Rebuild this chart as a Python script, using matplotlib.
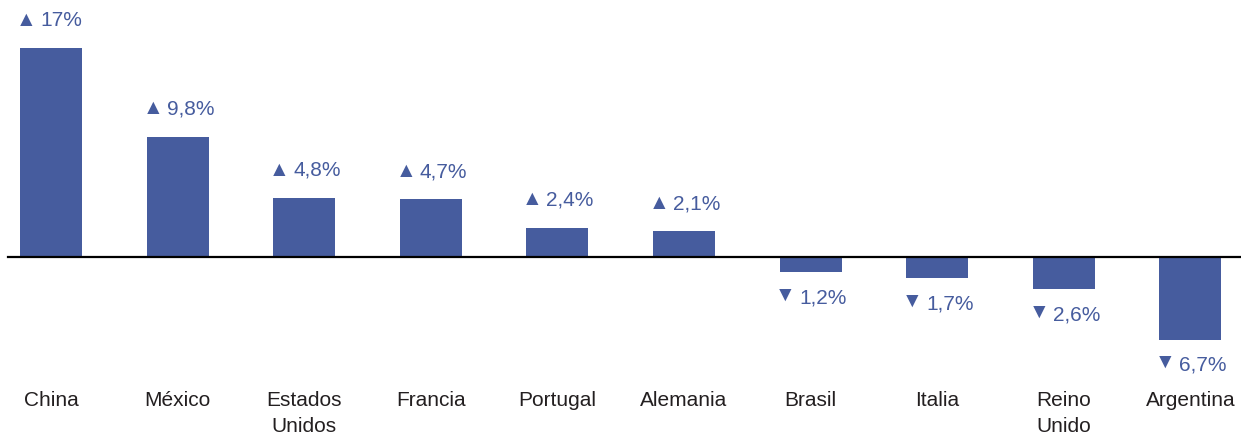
import matplotlib.pyplot as plt

# data (% change)
countries = ['China', 'México', 'Estados\nUnidos', 'Francia', 'Portugal',
             'Alemania', 'Brasil', 'Italia', 'Reino\nUnido', 'Argentina']
values = [17, 9.8, 4.8, 4.7, 2.4, 2.1, -1.2, -1.7, -2.6, -6.7]
value_labels = ['17%', '9,8%', '4,8%', '4,7%', '2,4%', '2,1%', '1,2%', '1,7%', '2,6%', '6,7%']

blue = '#465c9e'
plt.rcParams['font.family'] = ['Liberation Sans', 'DejaVu Sans']

fig = plt.figure(figsize=(12.41, 4.37), dpi=100)
ax = fig.add_axes([0, 0, 1, 1])
ax.set_xlim(-0.403, 9.40)
ax.set_ylim(-14.6, 20.9)
ax.axis('off')

x = list(range(len(countries)))
ax.bar(x, values, width=0.49, color=blue, zorder=2)
ax.axhline(0, xmin=0.0065, xmax=1, color='black', lw=1.6, zorder=3)

for xi, v, lab in zip(x, values, value_labels):
    if v >= 0:
        arrow, off, toff = '\u25B2', 20, 0
    else:
        arrow, off, toff = '\u25BC', -18.5, 2
    ax.annotate(lab, (xi, v), xytext=(-8, off), textcoords='offset points',
                ha='left', va='center', fontsize=15, color=blue)
    ax.annotate(arrow, (xi, v), xytext=(-18, off + toff),
                textcoords='offset points', ha='center', va='center',
                fontsize=15, color=blue)

for xi, c in zip(x, countries):
    ax.text(xi, -10.9, c, ha='center', va='top', fontsize=15,
            color='#231f20', linespacing=1.45)

fig.savefig('out.png', dpi=100)
